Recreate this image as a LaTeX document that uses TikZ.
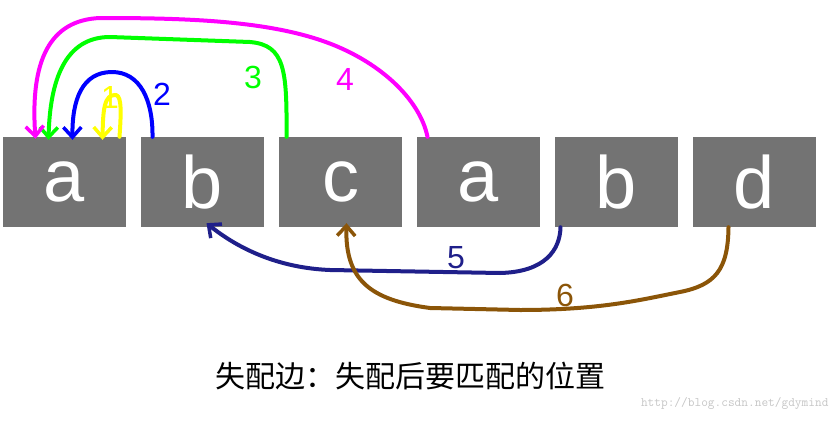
\documentclass[tikz,border=0pt]{standalone}
\usepackage{fontspec}
\setmainfont{Liberation Sans}
\newfontfamily\cjk{Noto Sans CJK SC}
\usetikzlibrary{arrows.meta}
\begin{document}
\begin{tikzpicture}[x=1pt,y=-1pt,
  cell/.style={fill=boxgray,minimum width=123pt,minimum height=90pt,inner sep=0pt,text=white,font=\fontsize{74}{74}\selectfont},
  edge/.style={line width=4pt,line cap=round,line join=round,-{Straight Barb[length=10pt,width=18pt,line width=3.5pt]}},
  lab/.style={font=\fontsize{32}{32}\selectfont}]
\definecolor{boxgray}{HTML}{737373}
\definecolor{c1}{HTML}{FFFF00}\definecolor{c2}{HTML}{0000FF}\definecolor{c3}{HTML}{00FF00}
\definecolor{c4}{HTML}{FF00FF}\definecolor{c5}{HTML}{1F1F8A}\definecolor{c6}{HTML}{8B5508}
\useasboundingbox (0,0) rectangle (838,423);
\node[cell] (b1) at (64.5,182) {a};
\node[cell] (b2) at (202.5,182) {b};
\node[cell] (b3) at (340.5,182) {c};
\node[cell] (b4) at (478.5,182) {a};
\node[cell] (b5) at (616.5,182) {b};
\node[cell] (b6) at (754.5,182) {d};
% 1
\node[lab,c1,draw=none] (l1) at (110,97) {1};
\draw[edge,c1] ([xshift=55pt]b1.north) .. controls (121,115) and (122,96) .. (116,95) .. controls (104,94) and (103,110) .. ([xshift=38pt,yshift=-3pt]b1.north);
% 2
\draw[edge,c2] ([xshift=-50pt]b2.north) .. controls (153,100) and (140,72) .. (112,72) .. controls (82,72) and (72,100) .. ([xshift=8pt,yshift=-3pt]b1.north);
\node[lab,c2] (l2) at (162,94) {2};
% 3
\draw[edge,c3] ([xshift=-54pt]b3.north) .. controls (287,70) and (285,45) .. (250,42) -- (110,37) .. controls (65,37) and (50,80) .. ([xshift=-16pt,yshift=-3pt]b1.north);
\node[lab,c3] (l3) at (253,77) {3};
% 4
\draw[edge,c4] ([xshift=-51pt]b4.north) .. controls (420,100) and (380,60) .. (320,40) .. controls (260,20) and (180,18) .. (100,18) .. controls (50,20) and (30,60) .. ([xshift=-29pt,yshift=-2pt]b1.north);
\node[lab,c4] (l4) at (345,79) {4};
% 5
\draw[edge,c5] ([xshift=-56pt]b5.south) .. controls (560,250) and (545,272) .. (500,273) -- (330,270) .. controls (280,268) and (240,250) .. ([xshift=4pt,yshift=4pt]b2.south);
\node[lab,c5] (l5) at (456,258) {5};
% 6
\draw[edge,c6] ([xshift=-26pt]b6.south) .. controls (728,270) and (715,285) .. (680,292) .. controls (640,300) and (600,310) .. (520,310) -- (430,308) .. controls (370,300) and (345,280) .. ([xshift=6pt,yshift=4pt]b3.south);
\node[lab,c6] (l6) at (565,295) {6};
\node[font=\cjk\fontsize{30}{30}\selectfont] (cap) at (410,376) {失配边：失配后要匹配的位置};
\node[font=\ttfamily\fontsize{13}{13}\selectfont,text=gray!45,anchor=east] (wm) at (832,403) {http://blog.csdn.net/gdymind};
\end{tikzpicture}
\end{document}
